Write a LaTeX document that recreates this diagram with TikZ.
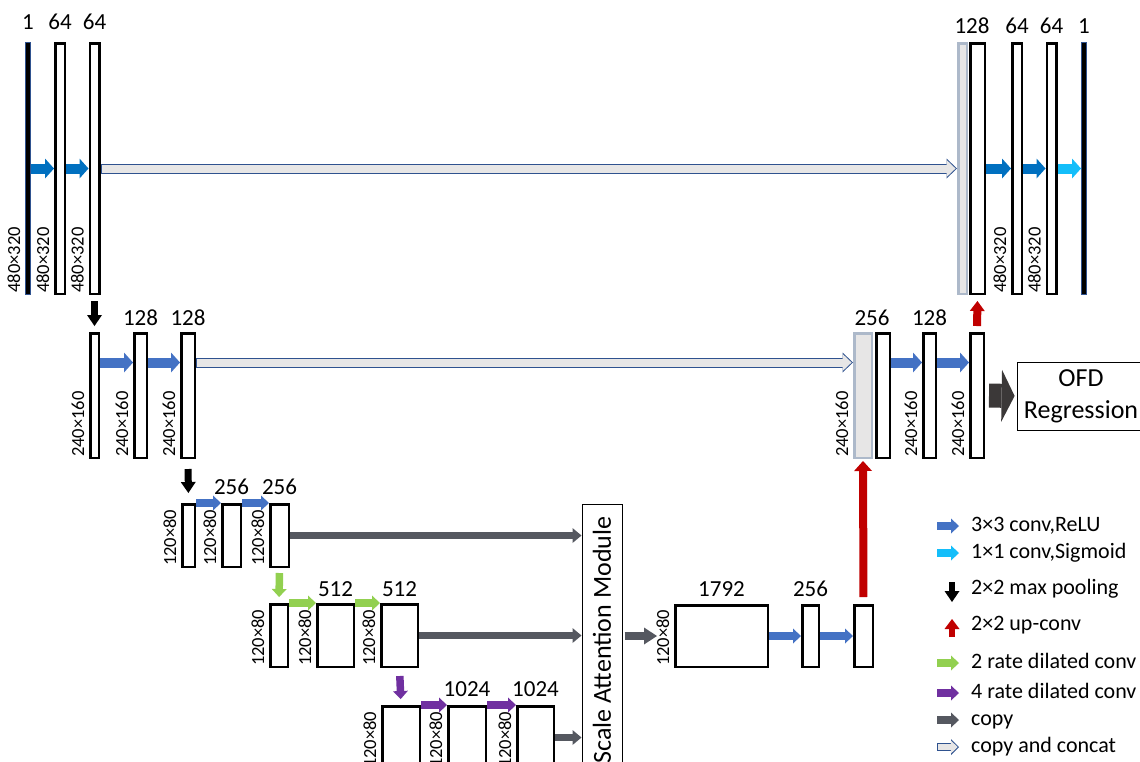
\documentclass[tikz,border=0pt]{standalone}
\usepackage{fontspec}
\setmainfont{Carlito}
\usetikzlibrary{arrows.meta,positioning}

\definecolor{convA}{RGB}{0,112,192}
\definecolor{convB}{RGB}{68,114,196}
\definecolor{sigc}{RGB}{20,190,250}
\definecolor{upc}{RGB}{192,0,0}
\definecolor{dil2}{RGB}{146,208,80}
\definecolor{dil4}{RGB}{112,48,160}
\definecolor{copyc}{RGB}{85,88,96}
\definecolor{edgeb}{RGB}{47,82,143}
\definecolor{cfill}{RGB}{231,230,230}
\definecolor{gline}{RGB}{173,185,202}
\definecolor{ofdc}{RGB}{59,56,56}

\newcommand\numf{\fontsize{23}{26}\selectfont}
\newcommand\dimf{\fontsize{18.5}{20}\selectfont}
\newcommand\legf{\fontsize{22}{26}\selectfont}
\newcommand\boxf{\fontsize{26}{32}\selectfont}

\begin{document}
\begin{tikzpicture}[
  x=1pt, y=-1pt,
  wh/.style 2 args = {minimum width=#1pt, minimum height=#2pt},
  bar/.style  = {draw, line width=2.5pt, fill=white, inner sep=0pt},
  gbar/.style = {draw=gline, line width=2.5pt, fill=cfill, inner sep=0pt},
  ibar/.style = {draw=edgeb, line width=0.8pt, fill=black, inner sep=0pt},
  num/.style  = {font=\numf, inner sep=1pt},
  dim/.style  = {font=\dimf, inner sep=1pt, rotate=90, anchor=south west},
  leg/.style  = {font=\legf, inner sep=1pt, anchor=west,
                 text height=15pt, text depth=5pt},
  blk/.style  = {line width=7.5pt, -{Triangle[length=8pt,width=15pt,line width=0pt]}},
  big/.style  = {line width=10pt, -{Triangle[length=9pt,width=20pt,line width=0pt]}},
  pool/.style = {black, line width=7pt, -{Triangle[length=11pt,width=15pt,line width=0pt]}},
  upc1/.style = {upc, line width=8pt, -{Triangle[length=10pt,width=15pt,line width=0pt]}},
  copy/.style = {copyc, line width=7pt, -{Triangle[length=9pt,width=15pt,line width=0pt]}},
  concato/.style = {edgeb, line width=10pt,
                    -{Triangle[length=10.5pt,width=20pt,line width=0pt]}},
  concati/.style = {cfill, line width=8pt, shorten >=1.45pt, shorten <=1pt,
                    -{Triangle[length=8.9pt,width=17pt,line width=0pt]}},
  ofdarr/.style  = {ofdc, line width=24pt,
                    -{Triangle[length=13pt,width=52pt,line width=0pt]}}
]
\useasboundingbox (0,0) rectangle (1140,761);
\clip (0,0) rectangle (1140,761);

%% -- Level 1 (480x320) --
\node[ibar, wh={5.2}{252}]     (in1)  at (28,168.5)   {};
\node[bar,  wh={9.5}{250.5}]   (b1)   at (60,168.5)   {};
\node[bar,  wh={9.5}{250.5}]   (b2)   at (94.5,168.5) {};
\node[gbar, wh={8.5}{250.5}]   (g1)   at (962.5,168.5){};
\node[bar,  wh={14.5}{250.5}]  (u1)   at (977.5,168.5){};
\node[bar,  wh={9.5}{250.5}]   (u2)   at (1017,168.5) {};
\node[bar,  wh={9.5}{250.5}]   (u3)   at (1051.5,168.5){};
\node[ibar, wh={5.2}{252}]     (out1) at (1084,168.5) {};

%% -- Level 2 (240x160) --
\node[bar,  wh={8.5}{124.5}]   (p1) at (94.5,395.5)  {};
\node[bar,  wh={12.5}{124.5}]  (p2) at (140.5,395.5) {};
\node[bar,  wh={13.5}{124.5}]  (p3) at (188,395.5)   {};
\node[gbar, wh={17.5}{124.5}]  (g2) at (863,395.5)   {};
\node[bar,  wh={13.5}{124.5}]  (q1) at (883,395.5)   {};
\node[bar,  wh={12.5}{124.5}]  (q2) at (929.5,395.5) {};
\node[bar,  wh={13.5}{124.5}]  (q3) at (977,395.5)   {};
\node[draw, line width=0.8pt, wh={128}{68}, align=center, font=\boxf]
  (ofd) at (1081,396) {OFD\\Regression};

%% -- Level 3 (120x80, dilated) --
\node[bar, wh={12.5}{62.5}] (c1) at (188.5,535.5) {};
\node[bar, wh={18.5}{62.5}] (c2) at (231.5,535.5) {};
\node[bar, wh={18.5}{62.5}] (c3) at (279.5,535.5) {};
\node[bar, wh={17.5}{62.5}] (d1) at (279,635.5)   {};
\node[bar, wh={36.5}{62.5}] (d2) at (335.5,635.5) {};
\node[bar, wh={36.5}{62.5}] (d3) at (399.5,635.5) {};
\node[bar, wh={37.5}{62.5}] (e1) at (401,737.5)   {};
\node[bar, wh={37.5}{62.5}] (e2) at (467,737.5)   {};
\node[bar, wh={36.5}{62.5}] (e3) at (535.5,737.5) {};

%% -- Attention module and fusion --
\node[draw, line width=1pt, fill=white, rotate=90, wh={272}{40},
      inner sep=0pt, font=\boxf] (att) at (602,640) {Scale Attention Module};
\node[bar, wh={92.5}{61.5}] (big) at (721.5,636) {};
\node[bar, wh={16.5}{61.5}] (f2)  at (810.5,636) {};
\node[bar, wh={18.5}{61.5}] (f3)  at (863.5,636) {};

%% -- Channel numbers --
\foreach \b/\t/\d in {in1/1/11, b1/64/11, b2/64/11, u2/64/7, u3/64/7, out1/1/7,
                      p2/128/5, p3/128/5, q2/128/5, c2/256/7, c3/256/7,
                      d2/512/5, d3/512/5, e2/1024/7, e3/1024/7,
                      big/1792/6, f2/256/6}
  \node[num, above=\d pt of \b] (n-\b) {\t};
\node[num, above=7pt of u1, xshift=-5.5pt] (n-u1) {128};
\node[num, above=5pt of q1, xshift=-11pt]  (n-q1) {256};

%% -- Sizes --
\foreach \b/\t in {in1/480×320, b1/480×320, b2/480×320, u2/480×320, u3/480×320,
                   p1/240×160, p2/240×160, p3/240×160, g2/240×160, q2/240×160,
                   q3/240×160, c1/120×80, c2/120×80, c3/120×80, d1/120×80,
                   d2/120×80, d3/120×80, e1/120×80, e2/120×80, e3/120×80,
                   big/120×80}
  \node[dim] (s-\b) at ([xshift=-3.5pt,yshift=1pt]\b.south west) {\t};

%% -- Convolutions --
\draw[convA, big] (in1.east) -- (b1.west);
\draw[convA, big] (b1.east) -- (b2.west);
\draw[convA, big] (u1.east) -- (u2.west);
\draw[convA, big] (u2.east) -- (u3.west);
\draw[sigc,  big] (u3.east) -- (out1.west);
\foreach \a/\b in {p1/p2, p2/p3, q1/q2, q2/q3}
  \draw[convB, big] ([yshift=33pt]\a.east) -- ([yshift=33pt]\b.west);
\draw[convB, blk] (c1.north east) -- (c2.north west);
\draw[convB, blk] (c2.north east) -- (c3.north west);
\draw[dil2, blk]  (d1.north east) -- (d2.north west);
\draw[dil2, blk]  (d2.north east) -- (d3.north west);
\draw[dil4, blk]  (e1.north east) -- (e2.north west);
\draw[dil4, blk]  (e2.north east) -- (e3.north west);
\draw[convB, blk] (big.east) -- (f2.west);
\draw[convB, blk] (f2.east) -- (f3.west);

%% -- Down / up --
\draw[pool, shorten <=6pt, shorten >=6pt]   (b2.south) -- (p1.north);
\draw[pool, shorten <=10pt, shorten >=10pt] (p3.south) -- (c1.north);
\draw[dil2, blk, shorten <=5pt, shorten >=6pt] (c3.south) -- (d1.north);
\draw[dil4, blk, shorten <=8pt, shorten >=6pt] (d3.south) -- (e1.north);
\draw[upc1, shorten <=6pt, shorten >=6pt]   (q3.north) -- (u1.south);
\draw[upc1, -{Triangle[length=10pt,width=18pt,line width=0pt]},
      shorten <=7pt, shorten >=2pt]         (f3.north) -- (g2.south);
\draw[ofdarr, shorten <=4pt, shorten >=2pt] (q3.east) -- (ofd.west);

%% -- Copy and concat --
\draw[concato] (b2.east) -- (g1.west);
\draw[concati] (b2.east) -- (g1.west);
\draw[concato] ([yshift=33pt]p3.east) -- ([yshift=33pt]g2.west);
\draw[concati] ([yshift=33pt]p3.east) -- ([yshift=33pt]g2.west);
\foreach \b in {c3,d3,e3}
  \draw[copy] (\b.east) -- (\b.east -| att.north);
\draw[copy, line width=8pt, -{Triangle[length=13pt,width=17pt,line width=0pt]},
      shorten <=2pt, shorten >=17pt] (big.west -| att.south) -- (big.west);

%% -- Legend --
\foreach \yy/\col/\tx [count=\i] in {526/convB/{3×3 conv,ReLU},
    553/sigc/{1×1 conv,Sigmoid}, 663/dil2/{2 rate dilated conv},
    693/dil4/{4 rate dilated conv}, 720/copyc/{copy}}{
  \node[leg] (lg\i) at (970,\yy) {\tx};
  \draw[blk, \col] ([xshift=-33pt]lg\i.west) -- ([xshift=-11pt]lg\i.west);}
\node[leg] (lgp) at (970,589) {2×2 max pooling};
\draw[pool, line width=6pt] ([xshift=-18pt,yshift=7pt]lgp.west)
  -- ([xshift=-18pt,yshift=-13pt]lgp.west);
\node[leg] (lgu) at (970,625) {2×2 up-conv};
\draw[upc1, line width=6pt] ([xshift=-18pt,yshift=-12pt]lgu.west)
  -- ([xshift=-18pt,yshift=6pt]lgu.west);
\node[leg] (lgc) at (970,747) {copy and concat};
\draw[concato, line width=8pt, -{Triangle[length=8pt,width=16pt,line width=0pt]}]
  ([xshift=-33pt]lgc.west) -- ([xshift=-11pt]lgc.west);
\draw[concati, line width=6pt, -{Triangle[length=6.6pt,width=13pt,line width=0pt]}]
  ([xshift=-33pt]lgc.west) -- ([xshift=-11pt]lgc.west);
\end{tikzpicture}
\end{document}
